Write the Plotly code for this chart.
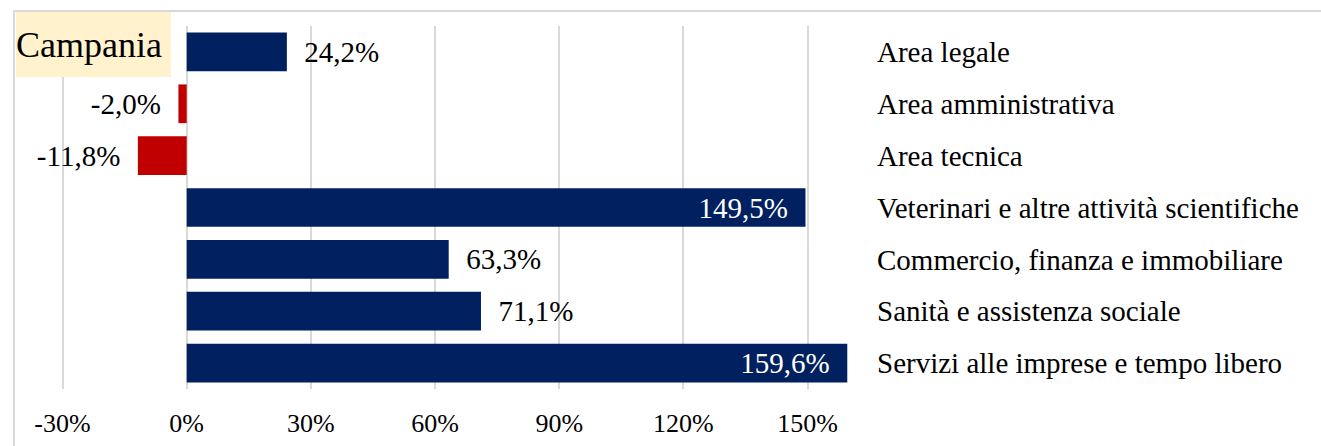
import plotly.graph_objects as go

categories = [
    "Area legale",
    "Area amministrativa",
    "Area tecnica",
    "Veterinari e altre attività scientifiche",
    "Commercio, finanza e immobiliare",
    "Sanità e assistenza sociale",
    "Servizi alle imprese e tempo libero",
]
values = [0.242, -0.020, -0.118, 1.495, 0.633, 0.711, 1.596]
label_positions = ["outside", "outside", "outside", "inside", "outside", "outside", "inside"]
tick_vals = [-0.3, 0.0, 0.3, 0.6, 0.9, 1.2, 1.5]
tick_text = ["-30%", "0%", "30%", "60%", "90%", "120%", "150%"]
region = "Campania"

POS_COLOR = "#002060"
NEG_COLOR = "#C00000"
FONT = "Liberation Serif"
NB = "\u00a0"


def fmt(v):
    return f"{v*100:.1f}%".replace(".", ",")


texts = []
for v, p in zip(values, label_positions):
    s = fmt(v)
    if p == "inside":
        texts.append(s + NB * 2)
    elif v >= 0:
        texts.append(NB * 2 + s)
    else:
        texts.append(s + NB * 2)

colors = [POS_COLOR if v >= 0 else NEG_COLOR for v in values]
text_colors = ["white" if p == "inside" else "black" for p in label_positions]

fig = go.Figure()
fig.add_trace(go.Bar(
    y=categories,
    x=values,
    orientation="h",
    marker=dict(color=colors, line=dict(width=0)),
    text=texts,
    textposition=label_positions,
    insidetextanchor="end",
    textfont=dict(family=FONT, size=29, color=text_colors),
    constraintext="none",
    cliponaxis=False,
    hoverinfo="skip",
))

W, H = 1321, 446
L, T = 50, 26
PR, PB = 870, 389
R, B = W - PR, H - PB
pw = W - L - R
ph = H - T - B
zero_px = 186.7
unit_px = 413.9
x0 = (L - zero_px) / unit_px
x1 = (PR - zero_px) / unit_px


def px_x(p):
    return (p - L) / pw


def px_y(p):
    return (PB - p) / ph


fig.update_layout(
    width=W, height=H,
    margin=dict(l=L, r=R, t=T, b=B, pad=0, autoexpand=False),
    paper_bgcolor="white",
    plot_bgcolor="white",
    bargap=0.254,
    showlegend=False,
    font=dict(family=FONT, color="black"),
    xaxis=dict(
        range=[x0, x1],
        tickvals=tick_vals,
        ticktext=tick_text,
        showgrid=True,
        gridcolor="#D9D9D9",
        gridwidth=2,
        zeroline=False,
        showline=False,
        ticks="",
        ticklabelstandoff=16,
        automargin=False,
        tickfont=dict(family=FONT, size=26, color="black"),
    ),
    yaxis=dict(
        autorange="reversed",
        side="right",
        showgrid=False,
        zeroline=False,
        showline=False,
        ticks="",
        ticklabelstandoff=6,
        automargin=False,
        tickfont=dict(family=FONT, size=29, color="black"),
    ),
    shapes=[
        dict(type="rect", xref="paper", yref="paper",
             x0=px_x(14), x1=px_x(1340), y0=px_y(470), y1=px_y(11),
             line=dict(color="#D9D9D9", width=2), fillcolor="rgba(0,0,0,0)",
             layer="below"),
    ],
    annotations=[
        dict(text=region, xref="paper", yref="paper",
             x=px_x(16), y=px_y(12), xanchor="left", yanchor="top",
             width=155, height=65, align="left", valign="middle",
             bgcolor="#FFF2CC", borderpad=0, borderwidth=0, showarrow=False,
             font=dict(family=FONT, size=36, color="black")),
    ],
)

# remove the browser's default page margin so the figure fills the window exactly
post = ("document.documentElement.style.margin='0';"
        "document.body.style.margin='0';"
        "document.documentElement.style.overflow='hidden';"
        "document.body.style.overflow='hidden';")
fig.write_html("out.html", post_script=post, config={"displayModeBar": False})
